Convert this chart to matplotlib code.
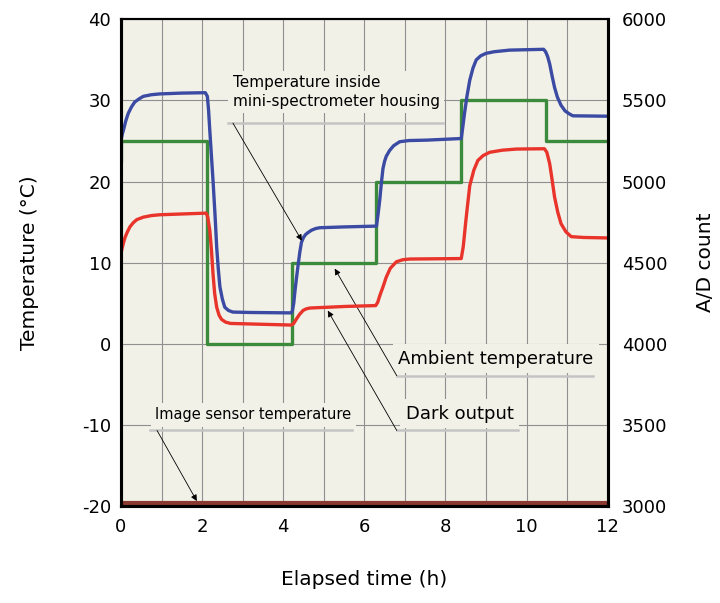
import matplotlib
matplotlib.use("Agg")
import matplotlib.pyplot as plt
from matplotlib.ticker import MultipleLocator

plt.rcParams['font.family'] = ['DejaVu Sans']
plt.rcParams['axes.unicode_minus'] = False

# elapsed time (h) / temperature (degC)
t_blue = [0.0, 0.03, 0.06, 0.12, 0.18, 0.26, 0.34, 0.45, 0.55, 0.75, 0.96, 1.5,
          2.08, 2.13, 2.16, 2.19, 2.23, 2.27, 2.32, 2.36, 2.40, 2.44, 2.50,
          2.56, 2.65, 2.76, 3.2, 4.2, 4.22, 4.26, 4.29, 4.33, 4.37, 4.41, 4.45,
          4.5, 4.55, 4.61, 4.7, 4.8, 4.9, 5.5, 6.3, 6.34, 6.38, 6.42, 6.46,
          6.5, 6.54, 6.62, 6.72, 6.87, 7.1, 7.53, 8.39, 8.43, 8.47, 8.53, 8.6,
          8.68, 8.76, 8.87, 9.0, 9.2, 9.58, 10.42, 10.47, 10.52, 10.57, 10.63,
          10.69, 10.76, 10.85, 10.95, 11.05, 11.14, 12.0]
temp_blue = [25.0, 25.8, 26.3, 27.5, 28.4, 29.2, 29.8, 30.2, 30.5, 30.7, 30.8,
             30.9, 30.95, 30.5, 28.8, 26.3, 23.2, 20.1, 15.8, 11.9, 9.2, 7.0,
             5.5, 4.5, 4.1, 3.9, 3.85, 3.8, 3.9, 5.0, 6.5, 8.2, 9.8, 11.3, 12.5,
             13.1, 13.45, 13.7, 14.0, 14.2, 14.3, 14.4, 14.5, 16.0, 17.7, 19.8,
             21.6, 22.5, 23.1, 23.8, 24.4, 24.9, 25.05, 25.1, 25.3, 26.8, 28.4,
             30.5, 32.5, 34.0, 35.0, 35.5, 35.8, 36.0, 36.2, 36.3, 36.0, 35.4,
             34.5, 33.0, 31.6, 30.4, 29.4, 28.7, 28.35, 28.1, 28.05]

t_green = [0.0, 0.0, 2.11, 4.22, 6.30, 8.39, 10.47, 12.0]
temp_green = [22.6, 25, 0, 10, 20, 30, 25, 25]

# dark output in A/D counts (right axis)
t_red = [0.0, 0.0, 0.03, 0.06, 0.1, 0.16, 0.22, 0.3, 0.39, 0.55, 0.75, 0.96,
         2.1, 2.14, 2.19, 2.23, 2.27, 2.31, 2.36, 2.42, 2.48, 2.58, 2.7, 4.2,
         4.26, 4.32, 4.4, 4.49, 4.57, 4.66, 5.56, 6.28, 6.33, 6.38, 6.46, 6.54,
         6.64, 6.79, 6.95, 7.12, 8.39, 8.44, 8.5, 8.55, 8.6, 8.7, 8.8, 8.93,
         9.09, 9.4, 9.75, 10.44, 10.5, 10.57, 10.63, 10.69, 10.77, 10.85,
         10.97, 11.1, 11.4, 12.0]
count_red = [3000, 4555, 4590, 4620, 4655, 4690, 4720, 4745, 4765, 4780, 4790,
             4795, 4805, 4780, 4700, 4580, 4430, 4310, 4225, 4175, 4150, 4133,
             4125, 4115, 4125, 4150, 4180, 4205, 4215, 4220, 4230, 4235, 4255,
             4295, 4350, 4410, 4465, 4505, 4518, 4522, 4525, 4600, 4750, 4865,
             4975, 5070, 5130, 5160, 5180, 5193, 5200, 5202, 5180, 5110, 5010,
             4905, 4810, 4740, 4690, 4660, 4655, 4652]

t_sensor = [0.0, 12.0]
temp_sensor = [-19.65, -19.65]

bg = '#f2f1e8'

fig = plt.figure(figsize=(7.2, 6.03), dpi=100)
ax = fig.add_axes([0.168, 0.161, 0.676, 0.807])
ax.set_facecolor(bg)
ax2 = ax.twinx()

ax.set_xlim(0, 12)
ax.set_ylim(-20, 40)
ax2.set_ylim(3000, 6000)

ax.xaxis.set_major_locator(MultipleLocator(2))
ax.xaxis.set_minor_locator(MultipleLocator(1))
ax.yaxis.set_major_locator(MultipleLocator(10))
ax2.yaxis.set_major_locator(MultipleLocator(500))
ax.grid(which='both', axis='x', color='#8f8f8f', lw=0.8)
ax.grid(which='major', axis='y', color='#8f8f8f', lw=0.8)
ax.set_axisbelow(True)

ax.plot(t_sensor, temp_sensor, color='#8a3a30', lw=3, solid_capstyle='butt')
ax.plot(t_green, temp_green, color='#3c8a3c', lw=2.4, drawstyle='steps-post')
ax.plot(t_blue, temp_blue, color='#3b4ba3', lw=2.4)
ax2.plot(t_red, count_red, color='#e8342b', lw=2.4)

for a in (ax, ax2):
    a.tick_params(which='both', length=0, labelsize=13)
    for s in a.spines.values():
        s.set_linewidth(2.2)
        s.set_color('black')
    a.spines['top'].set_linewidth(1.5)
ax.tick_params(axis='y', pad=7)
ax.tick_params(axis='x', pad=9)
ax2.tick_params(axis='y', pad=10)

ax.set_xlabel('Elapsed time (h)', fontsize=14.5, labelpad=24)
ax.set_ylabel('Temperature (°C)', fontsize=14.5, labelpad=31)
ax2.set_ylabel('A/D count', fontsize=14.5, labelpad=21)

# callout labels with leader lines
box = dict(boxstyle='square,pad=0.3', fc=bg, ec='none')
arrow = dict(arrowstyle='-|>', color='black', lw=0.6, mutation_scale=9,
             shrinkA=0, shrinkB=0)

labels = [
    ('Temperature inside\nmini-spectrometer housing', 2.76, 31.05, 11,
     (2.76, 27.2), (4.46, 12.7), (2.63, 7.95)),
    ('Ambient temperature', 6.83, -1.85, 13,
     (6.80, -3.95), (5.27, 9.26), (6.80, 11.65)),
    ('Dark output', 7.02, -8.64, 13,
     (6.80, -10.7), (5.10, 4.07), (6.80, 9.8)),
    ('Image sensor temperature', 0.84, -8.77, 10.5,
     (0.89, -10.7), (1.87, -19.4), (0.72, 5.7)),
]
for txt, x, y, fs, start, tip, uline in labels:
    ax.text(x, y, txt, fontsize=fs, ha='left', va='center', bbox=box,
            linespacing=1.3, zorder=5)
    ax.plot([uline[0], uline[1]], [start[1], start[1]], color='#c4c4c4',
            lw=1.8, zorder=5)
    ax.annotate('', xy=tip, xytext=start, arrowprops=arrow, zorder=6)

fig.savefig('out.png', dpi=100)
